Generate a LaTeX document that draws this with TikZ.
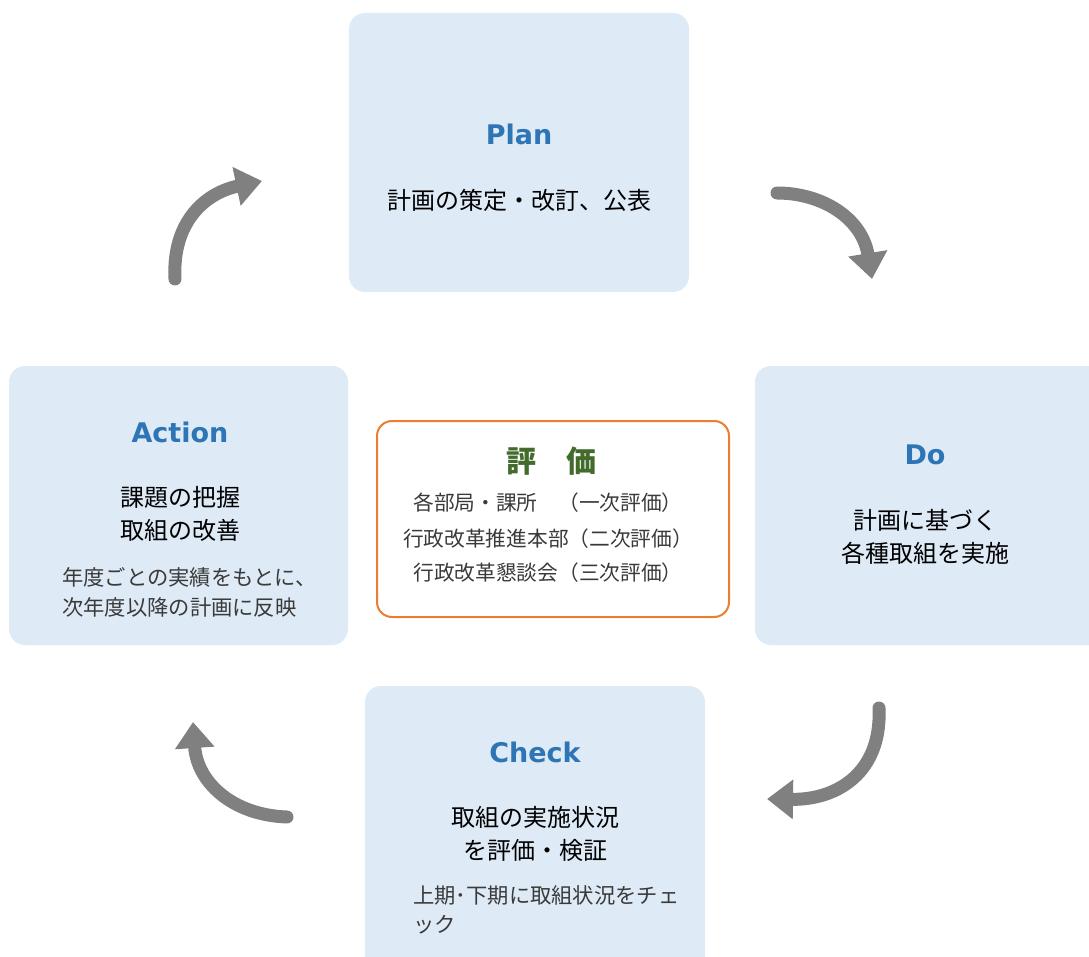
\documentclass[tikz,border=0pt]{standalone}
\usepackage{fontspec}
\usetikzlibrary{arrows.meta}
\newfontfamily\cjk{Noto Sans CJK JP}
\newfontfamily\ttl{DejaVu Sans}
\definecolor{boxfill}{HTML}{DEEAF6}
\definecolor{ttlblue}{HTML}{2E75B6}
\definecolor{arrgray}{HTML}{808080}
\definecolor{orng}{HTML}{ED7D31}
\definecolor{hyogreen}{HTML}{426B2C}
\definecolor{subgray}{HTML}{3A3A3A}
\tikzset{
  pbox/.style={fill=boxfill, draw=none, rounded corners=16pt},
  ttlnode/.style={inner sep=0pt, text=ttlblue, font=\ttl\bfseries\fontsize{27}{30}\selectfont},
  mainnode/.style={inner sep=0pt, align=center, text=black, font=\cjk\fontsize{24}{33}\selectfont},
  subnode/.style={inner sep=0pt, anchor=west, text=subgray, font=\cjk\fontsize{21.3}{24}\selectfont},
  evalnode/.style={inner sep=0pt, text=subgray, font=\cjk\fontsize{20.7}{24}\selectfont},
  cyc/.style={draw=arrgray, line width=13pt, line cap=round, -{Triangle[length=26pt,width=38pt]}, arrgray}
}
\begin{document}
\begin{tikzpicture}[x=1pt,y=-1pt]
\useasboundingbox (0,0) rectangle (1089,957);
\clip (0,0) rectangle (1089,957);
% boxes
\path[pbox] (349,13) rectangle (689,292);
\path[pbox] (755,366) rectangle (1110,645);
\path[pbox] (9,366) rectangle (348,645);
\path[pbox] (365,686) rectangle (705,980);
\draw[draw=orng, line width=2pt, fill=white, rounded corners=15pt] (377,421) rectangle (729,617);
% Plan
\node[ttlnode] (plant) at (519,134) {Plan};
\node[mainnode] (planm) at (519,200) {計画の策定・改訂、公表};
% Do
\node[ttlnode] (dot) at (925,455) {Do};
\node[mainnode] (dom) at (925,537) {計画に基づく\\各種取組を実施};
% Action
\node[ttlnode] (actt) at (180,432) {Action};
\node[mainnode] (actm) at (180,514) {課題の把握\\取組の改善};
\node[subnode] (acts1) at (62,577) {年度ごとの実績をもとに、};
\node[subnode] (acts2) at (62,607) {次年度以降の計画に反映};
% Check
\node[ttlnode] (chkt) at (535,752) {Check};
\node[mainnode] (chkm) at (535,834) {取組の実施状況\\を評価・検証};
\node[subnode] (chks1) at (413,895) {上期･下期に取組状況をチェ};
\node[subnode] (chks2) at (413,925) {ック};
% evaluation
\node[inner sep=0pt, text=hyogreen, font=\cjk\bfseries\fontsize{30}{34}\selectfont] (evt) at (551,461) {評　価};
\node[evalnode] (ev1) at (548,503) {各部局・課所　（一次評価）};
\node[evalnode] (ev2) at (548,539) {行政改革推進本部（二次評価）};
\node[evalnode] (ev3) at (548,573) {行政改革懇談会（三次評価）};
% cycle arrows
\coordinate (a1s) at (175,279);
\coordinate (a1e) at (262,181);
\coordinate (a2s) at (777,193);
\coordinate (a2e) at (872,279);
\coordinate (a3s) at (879,708);
\coordinate (a3e) at (767,799);
\coordinate (a4s) at (287,817);
\coordinate (a4e) at (193,722);
\draw[cyc] (a1s) .. controls (172,222) and (205,193) .. (a1e);
\draw[cyc] (a2s) .. controls (822,193) and (862,218) .. (a2e);
\draw[cyc] (a3s) .. controls (882,772) and (838,800) .. (a3e);
\draw[cyc] (a4s) .. controls (232,815) and (197,782) .. (a4e);
\end{tikzpicture}
\end{document}
